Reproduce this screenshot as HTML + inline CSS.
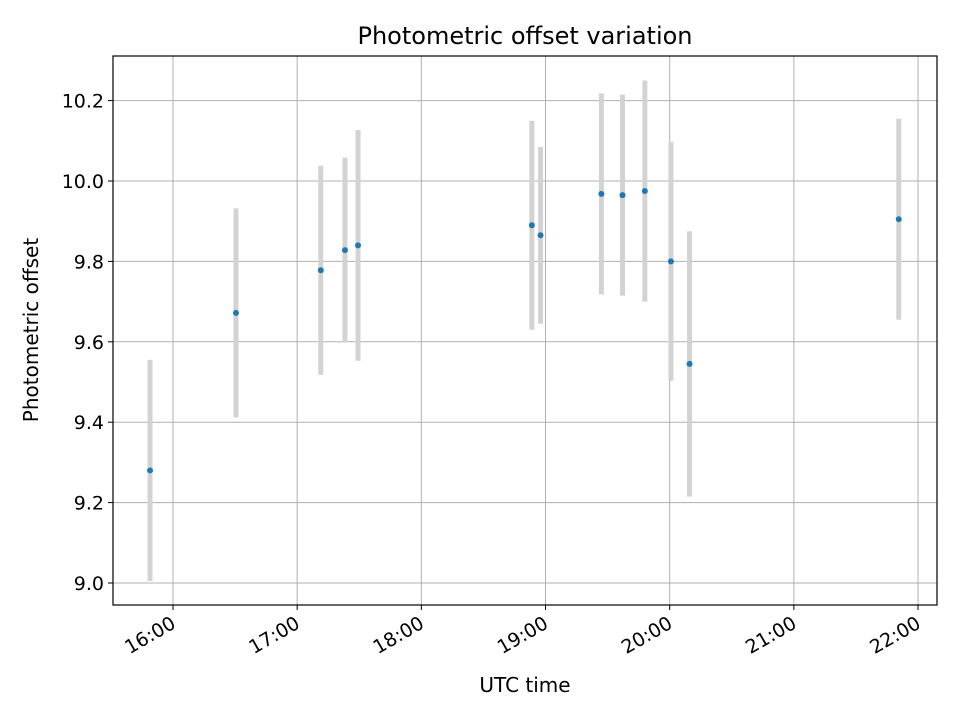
<!DOCTYPE html>
<html><head><meta charset="utf-8"><style>
body{margin:0;background:#fff;font-family:"Liberation Sans","DejaVu Sans",sans-serif}
svg text{font-family:"DejaVu Sans","Liberation Sans",sans-serif;fill:#000}
</style></head><body>
<svg id="chart" width="960" height="720" xmlns="http://www.w3.org/2000/svg">
<rect width="960" height="720" fill="#fff"/>
<g id="grid"></g><g id="bars"></g><g id="pts"></g><g id="ticks"></g>
<rect x="113" y="56" width="824" height="549" fill="none" stroke="#000" stroke-width="1.2"/>
<text x="525" y="44" font-size="24" text-anchor="middle">Photometric offset variation</text>
<text x="525" y="692" font-size="20" text-anchor="middle">UTC time</text>
<text transform="translate(38,330) rotate(-90)" font-size="20" text-anchor="middle">Photometric offset</text>
</svg>
<script>
const timesHours=[15.815,16.507,17.19,17.385,17.49,18.89,18.96,19.45,19.62,19.80,20.01,20.16,21.845];
const offsets=[9.28,9.672,9.778,9.828,9.84,9.89,9.865,9.968,9.965,9.975,9.80,9.545,9.905];
const errors=[0.275,0.26,0.26,0.23,0.287,0.26,0.22,0.25,0.25,0.275,0.297,0.33,0.25];
const xTicks=[16,17,18,19,20,21,22];
const xTickLabels=["16:00","17:00","18:00","19:00","20:00","21:00","22:00"];
const yTicks=[9.0,9.2,9.4,9.6,9.8,10.0,10.2];
const yTickLabels=["9.0","9.2","9.4","9.6","9.8","10.0","10.2"];
const X=h=>173+(h-16)*124.17;
const Y=v=>583-(v-9.0)*402;
const NS="http://www.w3.org/2000/svg";
function mk(t,a,p){const e=document.createElementNS(NS,t);for(const k in a)e.setAttribute(k,a[k]);document.getElementById(p).appendChild(e);return e;}
xTicks.forEach((t,i)=>{
 const g=mk('line',{x1:X(t),x2:X(t),y1:56,y2:605,stroke:'#b0b0b0','stroke-width':1},'grid');
 
 
 mk('line',{x1:X(t),x2:X(t),y1:605,y2:610,stroke:'#000'},'ticks');
 const ax=X(t)+4, ay=627;
 const tx=mk('text',{x:ax,y:ay,'font-size':19,'text-anchor':'end',transform:`rotate(-30 ${ax} ${ay})`},'ticks');
 tx.textContent=xTickLabels[i];
 
 
});
yTicks.forEach((t,i)=>{
 const g=mk('line',{x1:113,x2:937,y1:Y(t),y2:Y(t),stroke:'#b0b0b0','stroke-width':1},'grid');
 
 
 mk('line',{x1:108,x2:113,y1:Y(t),y2:Y(t),stroke:'#000'},'ticks');
 const tx=mk('text',{x:104,y:Y(t)+7,'font-size':19,'text-anchor':'end'},'ticks');
 tx.textContent=yTickLabels[i];
 
 
});
timesHours.forEach((h,i)=>{
 const b=mk('line',{x1:X(h),x2:X(h),y1:Y(offsets[i]+errors[i]),y2:Y(offsets[i]-errors[i]),stroke:'#d3d3d3','stroke-width':5},'bars');
 
 
 const c=mk('circle',{cx:X(h),cy:Y(offsets[i]),r:3,fill:'#1f77b4'},'pts');
 
 
});
</script>
</body></html>
